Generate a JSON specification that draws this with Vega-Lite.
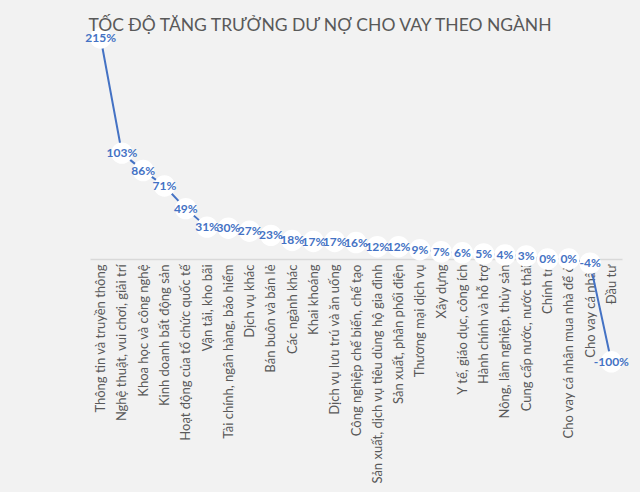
{
  "$schema": "https://vega.github.io/schema/vega-lite/v6.json",
  "background": "#f2f2f2",
  "autosize": {"type": "none"},
  "padding": {"left": 90, "top": 38, "right": 18, "bottom": 233},
  "width": 532,
  "height": 221,
  "title": {
    "text": "TỐC ĐỘ TĂNG TRƯỞNG DƯ NỢ CHO VAY THEO NGÀNH",
    "font": "Lato",
    "fontSize": 17.5,
    "fontWeight": "normal",
    "color": "#595959",
    "anchor": "middle",
    "dx": -36,
    "offset": -7
  },
  "data": {
    "values": [
      {"nganh": "Thông tin và truyền thông", "tang": 215},
      {"nganh": "Nghệ thuật, vui chơi, giải trí", "tang": 103},
      {"nganh": "Khoa học và công nghệ", "tang": 86},
      {"nganh": "Kinh doanh bất động sản", "tang": 71},
      {"nganh": "Hoạt động của tổ chức quốc tế", "tang": 49},
      {"nganh": "Vận tải, kho bãi", "tang": 31},
      {"nganh": "Tài chính, ngân hàng, bảo hiểm", "tang": 30},
      {"nganh": "Dịch vụ khác", "tang": 27},
      {"nganh": "Bán buôn và bán lẻ", "tang": 23},
      {"nganh": "Các ngành khác", "tang": 18},
      {"nganh": "Khai khoáng", "tang": 17},
      {"nganh": "Dịch vụ lưu trú và ăn uống", "tang": 17},
      {"nganh": "Công nghiệp chế biến, chế tạo", "tang": 16},
      {"nganh": "Sản xuất, dịch vụ tiêu dùng hộ gia đình", "tang": 12},
      {"nganh": "Sản xuất, phân phối điện", "tang": 12},
      {"nganh": "Thương mại dịch vụ", "tang": 9},
      {"nganh": "Xây dựng", "tang": 7},
      {"nganh": "Y tế, giáo dục, công ích", "tang": 6},
      {"nganh": "Hành chính và hỗ trợ", "tang": 5},
      {"nganh": "Nông, lâm nghiệp, thủy sản", "tang": 4},
      {"nganh": "Cung cấp nước, nước thải", "tang": 3},
      {"nganh": "Chính trị", "tang": 0},
      {"nganh": "Cho vay cá nhân mua nhà để ở", "tang": 0},
      {"nganh": "Cho vay cá nhân", "tang": -4},
      {"nganh": "Đầu tư", "tang": -100}
    ]
  },
  "transform": [{"calculate": "datum.tang + '%'", "as": "nhan"}],
  "encoding": {
    "x": {
      "field": "nganh",
      "type": "ordinal",
      "sort": null,
      "scale": {"type": "point", "padding": 0.5},
      "axis": {
        "title": null,
        "labelAngle": -90,
        "labelFont": "Lato",
        "labelFontSize": 13,
        "labelColor": "#595959",
        "labelPadding": 5,
        "labelLimit": 300,
        "ticks": false,
        "domainColor": "#d9d9d9",
        "domainWidth": 1.5
      }
    },
    "y": {
      "field": "tang",
      "type": "quantitative",
      "scale": {"domain": [0, 215], "nice": false, "zero": false},
      "axis": null
    }
  },
  "layer": [
    {"mark": {"type": "line", "color": "#4472c4", "strokeWidth": 2}},
    {"mark": {"type": "point", "shape": "circle", "filled": true, "color": "white", "opacity": 1, "size": 460}},
    {
      "mark": {"type": "text", "font": "Lato", "fontSize": 12, "fontWeight": "bold", "color": "#4472c4"},
      "encoding": {"text": {"field": "nhan", "type": "nominal"}}
    }
  ],
  "config": {"view": {"stroke": null}}
}
